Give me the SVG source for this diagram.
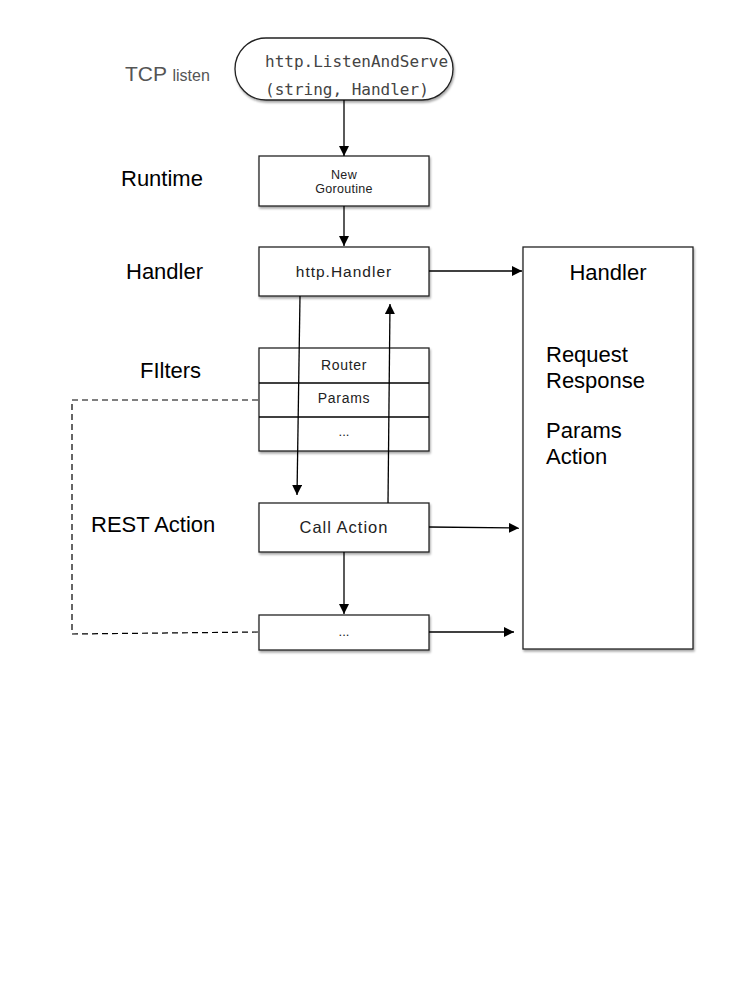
<svg xmlns="http://www.w3.org/2000/svg" width="749" height="999" viewBox="0 0 749 999">
<style>
.box{fill:#fff;stroke:#222;stroke-width:1.3;filter:url(#sh)}
.ln{fill:none;stroke:#000;stroke-width:1.3}
.dash{fill:none;stroke:#000;stroke-width:1.2;stroke-dasharray:6,4}
.lbl{font-family:"Liberation Sans",Arial,sans-serif;font-size:22px;fill:#000}
.rt{font-family:"Liberation Sans",Arial,sans-serif;font-size:22px;fill:#000}
.bt{font-family:"Liberation Sans",Arial,sans-serif;fill:#222;text-anchor:middle}
.mono{font-family:"DejaVu Sans Mono",monospace;font-size:16px;fill:#444}
</style>
<defs>
<filter id="sh" x="-10%" y="-10%" width="130%" height="130%">
<feDropShadow dx="1" dy="2" stdDeviation="1.2" flood-color="#000" flood-opacity="0.35"/>
</filter>
<marker id="ah" viewBox="0 0 10 10" refX="10" refY="5" markerWidth="10" markerHeight="10" markerUnits="userSpaceOnUse" orient="auto">
<path d="M0,0 L10,5 L0,10 z" fill="#000"/>
</marker>
</defs>
<rect width="749" height="999" fill="#fff"/>

<g id="labels">
<text x="125" y="81" class="lbl" style="fill:#555;font-size:21px">TCP <tspan style="font-size:16px">listen</tspan></text>
<text x="121" y="186" class="lbl">Runtime</text>
<text x="126" y="279" class="lbl">Handler</text>
<text x="140" y="378" class="lbl">FIlters</text>
<text x="91" y="532" class="lbl">REST Action</text>
</g>

<g id="listen">
<rect x="235" y="38" width="218" height="62" rx="31" ry="31" class="box"/>
<text x="265" y="67" class="mono">http.ListenAndServe</text>
<text x="265" y="95" class="mono">(string, Handler)</text>
</g>

<g id="goroutine">
<rect x="259" y="156" width="170" height="50" class="box"/>
<text x="344" y="179" class="bt" font-size="12.5" letter-spacing="0.3">New</text>
<text x="344" y="193" class="bt" font-size="12.5" letter-spacing="0.3">Goroutine</text>
</g>

<g id="httphandler">
<rect x="259" y="247" width="170" height="49" class="box"/>
<text x="344" y="277" class="bt" font-size="15.5" letter-spacing="1">http.Handler</text>
</g>

<g id="filters">
<rect x="259" y="348" width="170" height="103" class="box"/>
<line x1="259" y1="383" x2="429" y2="383" class="ln"/>
<line x1="259" y1="417" x2="429" y2="417" class="ln"/>
<text x="344" y="370" class="bt" font-size="14" letter-spacing="0.7">Router</text>
<text x="344" y="403" class="bt" font-size="14" letter-spacing="0.7">Params</text>
<text x="344" y="436" class="bt" font-size="13">...</text>
</g>

<g id="callaction">
<rect x="259" y="503" width="170" height="49" class="box"/>
<text x="344" y="533" class="bt" font-size="16.5" letter-spacing="1">Call Action</text>
</g>

<g id="more">
<rect x="259" y="615" width="170" height="35" class="box"/>
<text x="344" y="636" class="bt" font-size="13">...</text>
</g>

<g id="context">
<rect x="523" y="247" width="170" height="402" class="box"/>
<text x="608" y="280" class="rt" style="text-anchor:middle">Handler</text>
<text x="546" y="362" class="rt">Request</text>
<text x="546" y="388" class="rt">Response</text>
<text x="546" y="438" class="rt">Params</text>
<text x="546" y="464" class="rt">Action</text>
</g>

<g id="connectors">
<line x1="344" y1="100" x2="344" y2="156" class="ln" marker-end="url(#ah)"/>
<line x1="344" y1="206" x2="344" y2="246" class="ln" marker-end="url(#ah)"/>
<line x1="429" y1="271" x2="522" y2="271" class="ln" marker-end="url(#ah)"/>
<line x1="300" y1="296" x2="297" y2="495" class="ln" marker-end="url(#ah)"/>
<line x1="388" y1="503" x2="390" y2="304" class="ln" marker-end="url(#ah)"/>
<line x1="429" y1="527" x2="519" y2="528" class="ln" marker-end="url(#ah)"/>
<line x1="344" y1="552" x2="344" y2="614" class="ln" marker-end="url(#ah)"/>
<line x1="429" y1="632" x2="514" y2="632" class="ln" marker-end="url(#ah)"/>
<polyline points="258,400 72,400 72,634 258,632" class="dash"/>
</g>
</svg>
